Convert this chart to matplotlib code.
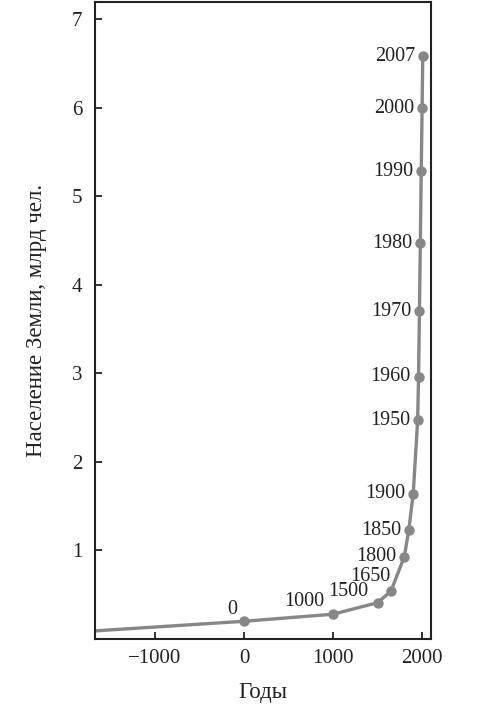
import matplotlib
matplotlib.use("Agg")
import matplotlib.pyplot as plt

# world population, billions
years = [-1700, 0, 1000, 1500, 1650, 1800, 1850, 1900, 1950, 1960, 1970, 1980, 1990, 2000, 2007]
population = [0.09, 0.20, 0.28, 0.41, 0.54, 0.93, 1.23, 1.64, 2.47, 2.96, 3.70, 4.47, 5.28, 5.99, 6.58]
labels = ["", "0", "1000", "1500", "1650", "1800", "1850", "1900", "1950", "1960", "1970", "1980", "1990", "2000", "2007"]

# label offsets in points (dx, dy)
offsets = {
    "0": (-5, 2), "1000": (-6, 2), "1500": (-7, 1), "1650": (0, 4),
}

plt.rcParams['font.family'] = ['Liberation Serif', 'DejaVu Serif']

fig = plt.figure(figsize=(4.98, 7.10), dpi=100)
ax = fig.add_axes([0.1908, 0.1, 0.6747, 0.897])

gray = '#878787'
ax.plot(years, population, color=gray, lw=2.4, zorder=2)
ax.plot(years[1:], population[1:], 'o', color=gray, ms=6.5, zorder=3)

for x, y, lab in zip(years, population, labels):
    if not lab:
        continue
    dx, dy = offsets.get(lab, (-5.5, 0))
    va = 'bottom' if lab in offsets else 'center'
    ax.annotate(lab, (x, y), xytext=(dx, dy), textcoords='offset points',
                ha='right', va=va, fontsize=14.5, color='#222222')

ax.set_xlim(-1674, 2100)
ax.set_ylim(0, 7.19)
ax.set_xticks([-1000, 0, 1000, 2000])
ax.set_xticklabels(['\u22121000', '0', '1000', '2000'])
ax.set_yticks([1, 2, 3, 4, 5, 6, 7])

ax.tick_params(direction='in', length=5, width=1.3, labelsize=15, colors='#222222')
ax.tick_params(axis='x', pad=7)
ax.tick_params(axis='y', pad=9)
for s in ax.spines.values():
    s.set_linewidth(1.5)
    s.set_color('#222222')

ax.set_xlabel('Годы', fontsize=16.5, labelpad=10, color='#222222')
ax.set_ylabel('Население Земли, млрд чел.', fontsize=16.5, labelpad=18, color='#222222')

fig.savefig('out.png', dpi=100, facecolor='white')
